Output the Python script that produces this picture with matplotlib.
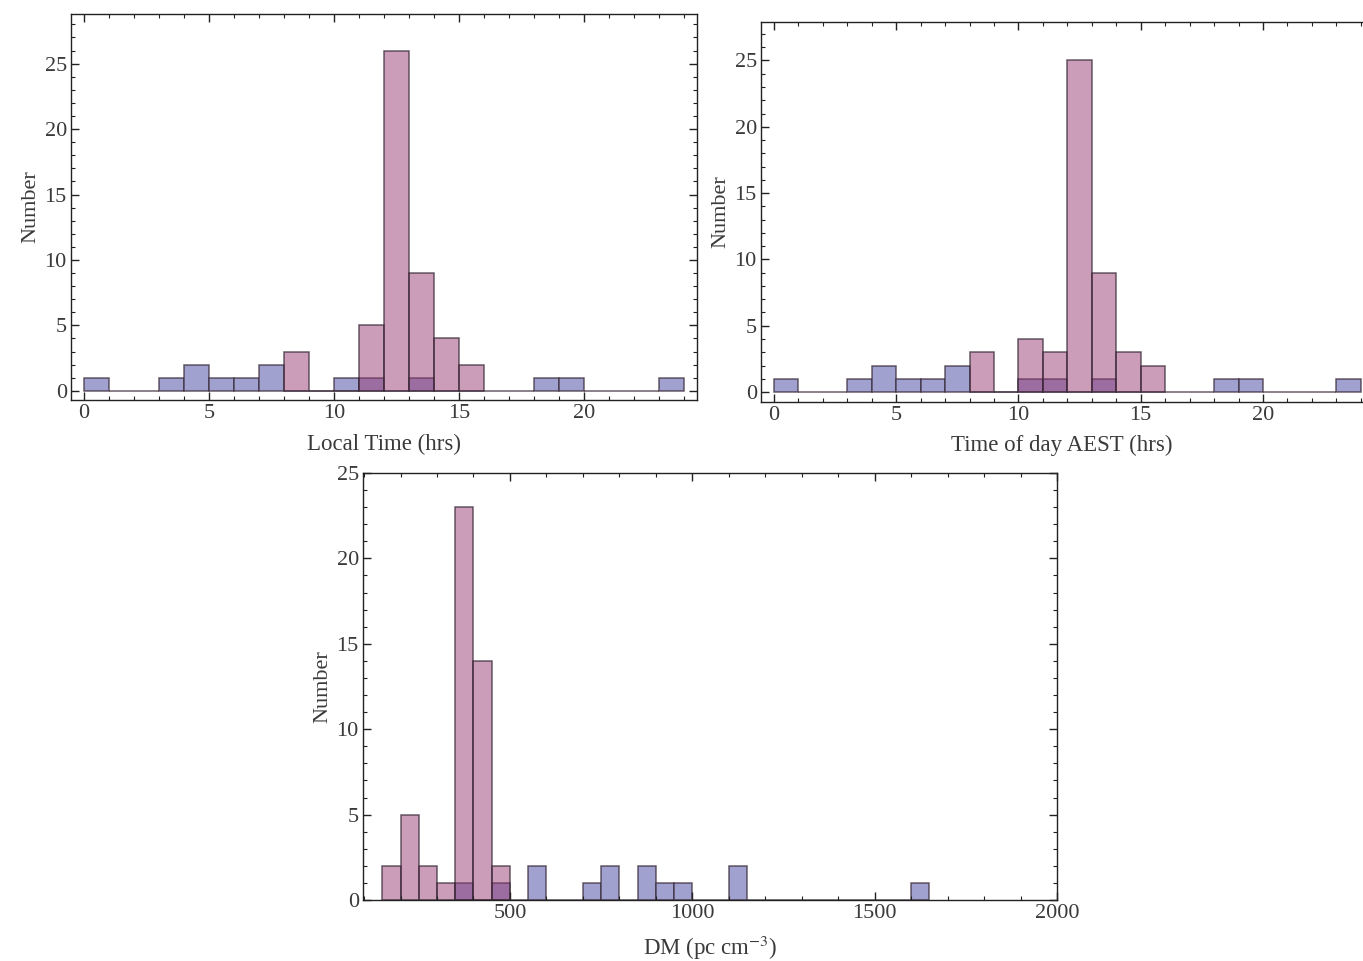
import numpy as np
from matplotlib import pyplot as plt
from matplotlib.ticker import MultipleLocator

# hourly histograms, bins of 1 hr starting at 0
hour_edges = list(range(0, 25))
blue_hours = [1, 0, 0, 1, 2, 1, 1, 2, 0, 0, 1, 1, 0, 1, 0, 0,
              0, 0, 1, 1, 0, 0, 0, 1]
pink_start = 8
pink_local = [3, 0, 0, 5, 26, 9, 4, 2]
pink_aest = [3, 0, 4, 3, 25, 9, 3, 2]

# DM histograms, bins of 50 pc cm^-3
dm_width = 50
pink_dm_start = 150
pink_dm = [2, 5, 2, 1, 23, 14, 2]
blue_dm_start = 350
blue_dm = [1, 0, 1, 0, 2, 0, 0, 1, 2, 0, 2, 1, 1, 0, 0, 2,
           0, 0, 0, 0, 0, 0, 0, 0, 0, 1]

BLUE = '#a1a1cf'
PINK = (0.59, 0.22, 0.44, 0.49)
EDGE = (0.22, 0.16, 0.22, 0.75)
TXT = '#3a3a3a'

plt.rcParams['font.family'] = ['Liberation Serif', 'DejaVu Serif']
plt.rcParams['mathtext.fontset'] = 'stix'


def bars(ax, start, width, counts, color):
    left = [start + i * width for i in range(len(counts))]
    ax.bar(left, counts, width=width, align='edge', color=color,
           edgecolor=EDGE, linewidth=1.1)


def frame(ax, xmaj, xmin, ymaj, ymin, right=True):
    ax.xaxis.set_major_locator(MultipleLocator(xmaj))
    ax.xaxis.set_minor_locator(MultipleLocator(xmin))
    ax.yaxis.set_major_locator(MultipleLocator(ymaj))
    ax.yaxis.set_minor_locator(MultipleLocator(ymin))
    ax.tick_params(which='both', direction='in', top=True, right=right,
                   labelsize=16, labelcolor=TXT, color='#222222', pad=3)
    ax.tick_params(which='major', length=6, width=1)
    ax.tick_params(which='minor', length=3, width=0.8)
    for s in ax.spines.values():
        s.set_color('#222222')
        s.set_linewidth(1.0)
    if not right:
        ax.spines['right'].set_visible(False)
    ax.set_ylabel('Number', fontsize=16, color=TXT, labelpad=3)


fig = plt.figure(figsize=(13.63, 9.61), dpi=100)

ax1 = fig.add_axes([0.0521, 0.5838, 0.4593, 0.4017])
bars(ax1, 0, 1, blue_hours, BLUE)
bars(ax1, pink_start, 1, pink_local, PINK)
ax1.set_xlim(-0.52, 24.52)
ax1.set_ylim(-0.7, 28.8)
frame(ax1, 5, 1, 5, 1)
ax1.set_xlabel('Local Time (hrs)', fontsize=16.5, color=TXT, labelpad=8)

ax2 = fig.add_axes([0.5583, 0.5817, 0.4417, 0.3954])
bars(ax2, 0, 1, blue_hours, BLUE)
bars(ax2, pink_start, 1, pink_aest, PINK)
ax2.set_xlim(-0.53, 24.09)
ax2.set_ylim(-0.75, 27.9)
frame(ax2, 5, 1, 5, 1, right=False)
ax2.set_xlabel('Time of day AEST (hrs)', fontsize=16.5, color=TXT, labelpad=7)

ax3 = fig.add_axes([0.2663, 0.0635, 0.5092, 0.4443])
bars(ax3, blue_dm_start, dm_width, blue_dm, BLUE)
bars(ax3, pink_dm_start, dm_width, pink_dm, PINK)
ax3.set_xlim(97, 2000)
ax3.set_ylim(0, 25)
frame(ax3, 500, 100, 5, 1)
ax3.set_xlabel(r'DM (pc cm$^{-3}$)', fontsize=16.5, color=TXT, labelpad=8)

fig.savefig('out.png', dpi=100)
